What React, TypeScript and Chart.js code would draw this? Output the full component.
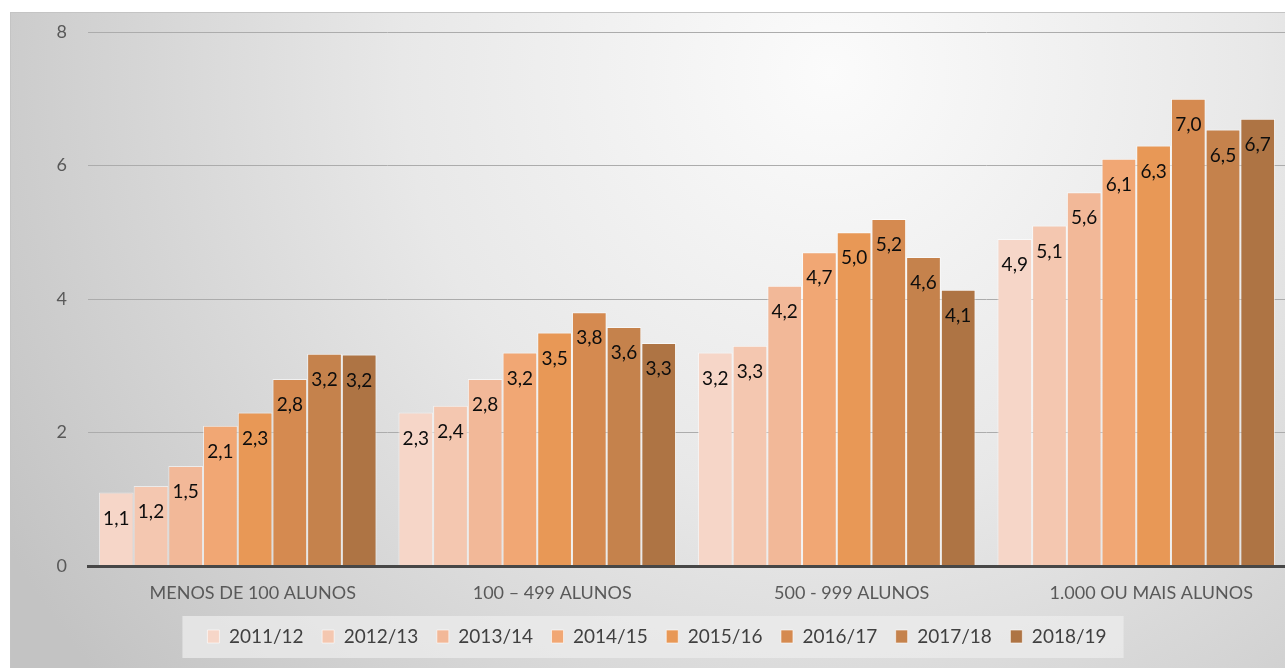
import React, { useEffect, useRef } from "react";
import { Chart, registerables } from "chart.js";

Chart.register(...registerables);

const categories = ["MENOS DE 100 ALUNOS", "100 – 499 ALUNOS", "500 - 999 ALUNOS", "1.000 OU MAIS ALUNOS"];
const seriesNames = ["2011/12", "2012/13", "2013/14", "2014/15", "2015/16", "2016/17", "2017/18", "2018/19"];

const v2011 = [1.1, 2.3, 3.2, 4.9];
const v2012 = [1.2, 2.4, 3.3, 5.1];
const v2013 = [1.5, 2.8, 4.2, 5.6];
const v2014 = [2.1, 3.2, 4.7, 6.1];
const v2015 = [2.3, 3.5, 5.0, 6.3];
const v2016 = [2.8, 3.8, 5.2, 7.0];
const v2017 = [3.18, 3.58, 4.63, 6.54];
const v2018 = [3.17, 3.34, 4.14, 6.7];

const seriesValues = [v2011, v2012, v2013, v2014, v2015, v2016, v2017, v2018];
const seriesColors = ["#f6d6c8", "#f4c7b0", "#f2b898", "#f1a774", "#e89856", "#d58a50", "#c5824c", "#ae7444"];

const yMin = 0;
const yMax = 8;
const yStep = 2;

const FONT = "Lato, 'Open Sans', sans-serif";
const FRAME_TOP = 12;

const backgroundPlugin = {
  id: "bgPlugin",
  beforeDraw(chart: any) {
    const { ctx, width, height } = chart;
    ctx.save();
    ctx.fillStyle = "#ffffff";
    ctx.fillRect(0, 0, width, height);
    const g = ctx.createRadialGradient(820, 72, 0, 820, 72, 950);
    g.addColorStop(0, "#fbfbfb");
    g.addColorStop(0.45, "#e8e8e8");
    g.addColorStop(1, "#c3c3c3");
    ctx.fillStyle = g;
    ctx.fillRect(0, FRAME_TOP, width, height - FRAME_TOP);
    ctx.strokeStyle = "#c4c4c4";
    ctx.lineWidth = 1;
    ctx.strokeRect(0.5, FRAME_TOP + 0.5, width + 5, height + 5);
    const hb = chart.legend && chart.legend.legendHitBoxes;
    if (hb && hb.length) {
      const first = hb[0];
      const last = hb[hb.length - 1];
      const cy = first.top + first.height / 2;
      const left = first.left - 25;
      const right = last.left + last.width + 17;
      ctx.fillStyle = "rgba(236,236,236,0.75)";
      ctx.fillRect(left, cy - 20.5, right - left, 42);
    }
    ctx.restore();
  },
};

const labelPlugin = {
  id: "barLabels",
  afterDatasetsDraw(chart: any) {
    const { ctx } = chart;
    ctx.save();
    ctx.font = `19px ${FONT}`;
    ctx.fillStyle = "#0d0d0d";
    ctx.textAlign = "center";
    ctx.textBaseline = "middle";
    chart.data.datasets.forEach((ds: any, di: number) => {
      const meta = chart.getDatasetMeta(di);
      meta.data.forEach((el: any, i: number) => {
        const v = ds.data[i] as number;
        const text = v.toFixed(1).replace(".", ",");
        ctx.fillText(text, el.x, el.y + 26);
      });
    });
    ctx.restore();
  },
};

export default function App() {
  const ref = useRef<HTMLCanvasElement | null>(null);

  useEffect(() => {
    if (!ref.current) return;
    const chart = new Chart(ref.current, {
      type: "bar",
      data: {
        labels: categories,
        datasets: seriesNames.map((name, i) => ({
          label: name,
          data: seriesValues[i],
          backgroundColor: seriesColors[i],
          borderColor: "rgba(255,255,255,0.6)",
          borderWidth: 1,
          categoryPercentage: 0.927,
          barPercentage: 1.0,
        })),
      },
      options: {
        responsive: false,
        animation: false,
        layout: { padding: { left: 18, right: 24, top: 32, bottom: 12 } },
        plugins: {
          tooltip: { enabled: false },
          legend: {
            position: "bottom",
            labels: {
              boxWidth: 12,
              boxHeight: 13,
              padding: 18.5,
              color: "#404040",
              font: { size: 19, family: FONT },
            },
          },
        },
        scales: {
          x: {
            grid: { display: false },
            border: { display: true, color: "#474747", width: 3, z: 1 },
            ticks: {
              padding: 8,
              labelOffset: 15,
              color: "#595959",
              maxRotation: 0,
              autoSkip: false,
              font: { size: 18, family: FONT },
            },
            afterFit: (s: any) => {
              s.height = 42.5;
            },
          },
          y: {
            min: yMin,
            max: yMax,
            ticks: {
              stepSize: yStep,
              padding: 21,
              color: "#595959",
              font: { size: 18, family: FONT },
            },
            grid: { color: "#acacac", drawTicks: false, lineWidth: 1 },
            border: { display: false },
            afterFit: (s: any) => {
              s.width = 60;
            },
          },
        },
      },
      plugins: [backgroundPlugin, labelPlugin],
    } as any);
    return () => chart.destroy();
  }, []);

  return (
    <div style={{ position: "fixed", left: 0, top: 0, width: 1285, height: 668, overflow: "hidden", background: "#ffffff" }}>
      <div style={{ position: "absolute", left: 10, top: 0, width: 1300, height: 668 }}>
        <canvas ref={ref} width={1300} height={668} style={{ display: "block" }} />
      </div>
    </div>
  );
}
